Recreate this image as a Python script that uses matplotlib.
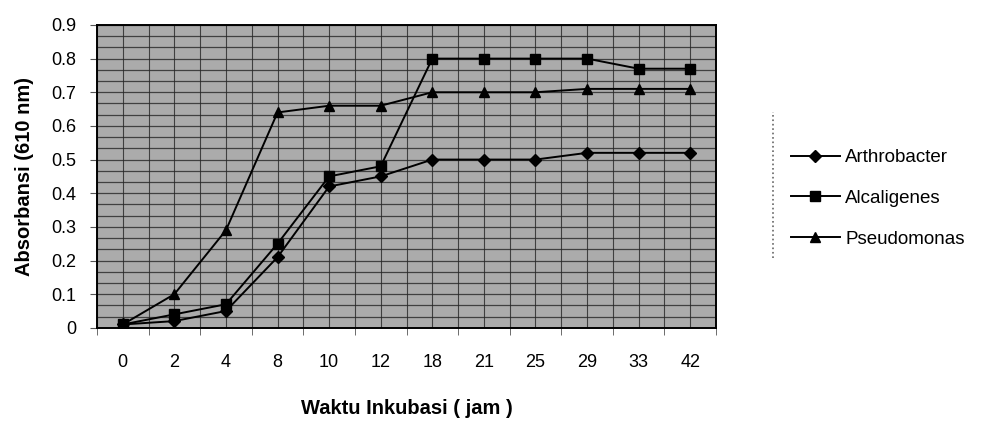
"""Absorbance growth curves of three bacteria over incubation time."""

import matplotlib
matplotlib.use("Agg")
import matplotlib.pyplot as plt
from matplotlib.ticker import FixedLocator, MultipleLocator, FuncFormatter
from matplotlib.lines import Line2D
import numpy as np

plt.rcParams["font.family"] = ["Liberation Sans", "DejaVu Sans"]

# ---------------------------------------------------------------------------
# Data
# ---------------------------------------------------------------------------
hours = ["0", "2", "4", "8", "10", "12", "18", "21", "25", "29", "33", "42"]
arthrobacter = [0.01, 0.02, 0.05, 0.21, 0.42, 0.45, 0.50, 0.50, 0.50, 0.52, 0.52, 0.52]
alcaligenes = [0.01, 0.04, 0.07, 0.25, 0.45, 0.48, 0.80, 0.80, 0.80, 0.80, 0.77, 0.77]
pseudomonas = [0.01, 0.10, 0.29, 0.64, 0.66, 0.66, 0.70, 0.70, 0.70, 0.71, 0.71, 0.71]

series = [
    ("Arthrobacter", arthrobacter, "D", 6),
    ("Alcaligenes", alcaligenes, "s", 7),
    ("Pseudomonas", pseudomonas, "^", 7),
]

fig = plt.figure(figsize=(10, 4.23), dpi=100)
ax = fig.add_axes([0.097, 0.225, 0.619, 0.716])
ax.set_facecolor("#ababab")

x = np.arange(len(hours))

# dense grid texture like the scanned Excel plot
ax.yaxis.set_minor_locator(MultipleLocator(0.1 / 3))
ax.xaxis.set_minor_locator(FixedLocator(np.arange(-0.5, len(hours), 1.0)))
ax.grid(which="both", axis="y", color="#262626", linewidth=0.9, alpha=0.8)
ax.grid(which="both", axis="x", color="#262626", linewidth=0.8, alpha=0.8)
ax.set_axisbelow(True)

handles = []
for name, vals, marker, ms in series:
    (h,) = ax.plot(x, vals, color="black", linewidth=1.4, marker=marker,
                   markersize=ms, markerfacecolor="black", markeredgecolor="black",
                   label=name)
    handles.append(h)

ax.set_xlim(-0.5, len(hours) - 0.5)
ax.set_ylim(0, 0.9)
ax.set_xticks(x)
ax.set_xticklabels(hours)
ax.set_yticks(np.arange(0, 0.91, 0.1))
ax.yaxis.set_major_formatter(FuncFormatter(lambda v, _: "0" if abs(v) < 1e-9 else f"{v:.1f}"))

ax.tick_params(axis="x", which="major", length=0, pad=19, labelsize=13)
ax.tick_params(axis="x", which="minor", length=5, direction="out", color="#555")
ax.tick_params(axis="y", which="major", length=5, pad=10, labelsize=13, color="#555")
ax.tick_params(axis="y", which="minor", length=0)

for sp in ax.spines.values():
    sp.set_color("black")
    sp.set_linewidth(1.4)

ax.set_ylabel("Absorbansi (610 nm)", fontsize=14.5, fontweight="bold", labelpad=12)
ax.set_xlabel("Waktu Inkubasi ( jam )", fontsize=14.5, fontweight="bold", labelpad=20)

leg = fig.legend(handles=handles, loc="upper left", bbox_to_anchor=(0.774, 0.687),
                 frameon=False, fontsize=13.5, handlelength=2.6, handletextpad=0.3,
                 labelspacing=1.25)

# dotted left edge of the legend box
fig.add_artist(Line2D([0.773, 0.773], [0.39, 0.735], transform=fig.transFigure,
                      color="#666", linestyle=":", linewidth=1.2))

fig.savefig("out.png", dpi=100)
